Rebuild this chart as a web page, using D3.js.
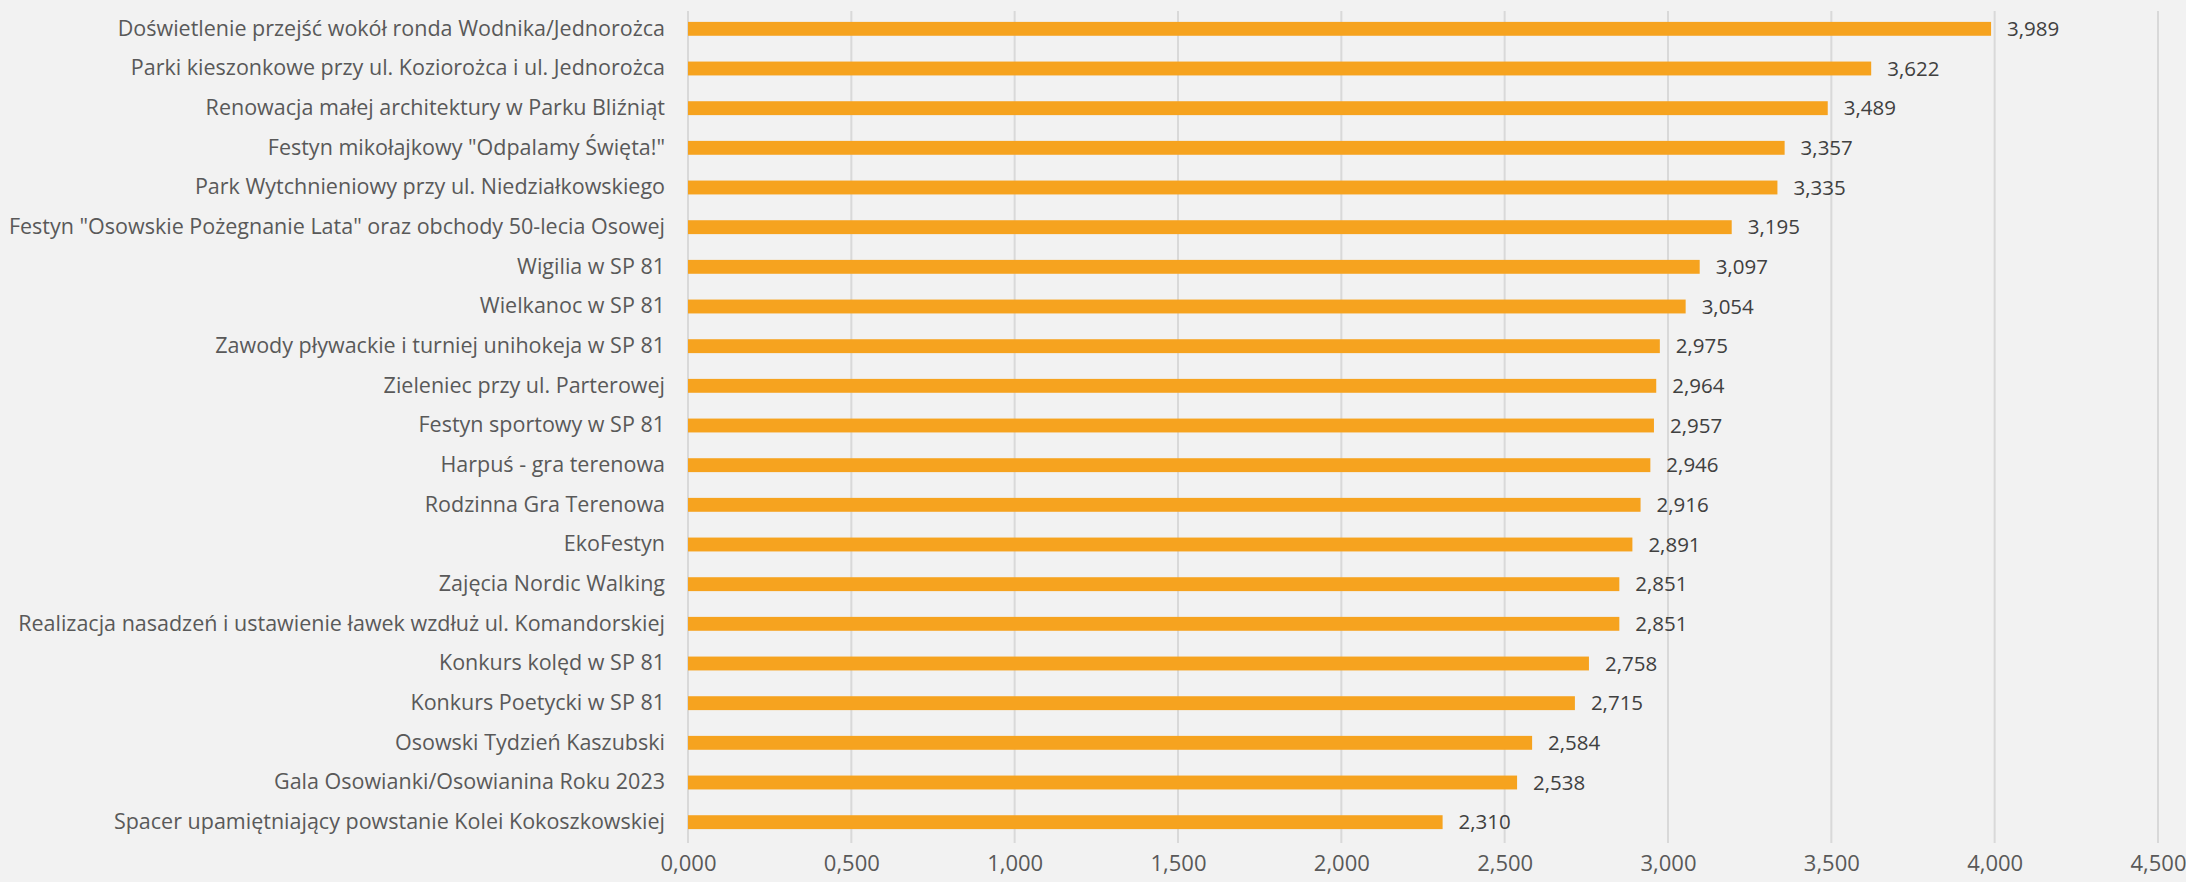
<!DOCTYPE html>
<html><head><meta charset="utf-8">
<script src="https://cdn.jsdelivr.net/npm/d3@7"></script>
<style>html,body{margin:0;padding:0;background:#f2f2f2;}svg{display:block;}</style>
</head><body>
<script>
const categories = [
  "Doświetlenie przejść wokół ronda Wodnika/Jednorożca",
  "Parki kieszonkowe przy ul. Koziorożca i ul. Jednorożca",
  "Renowacja małej architektury w Parku Bliźniąt",
  "Festyn mikołajkowy \"Odpalamy Święta!\"",
  "Park Wytchnieniowy przy ul. Niedziałkowskiego",
  "Festyn \"Osowskie Pożegnanie Lata\" oraz obchody 50-lecia Osowej",
  "Wigilia w SP 81",
  "Wielkanoc w SP 81",
  "Zawody pływackie i turniej unihokeja w SP 81",
  "Zieleniec przy ul. Parterowej",
  "Festyn sportowy w SP 81",
  "Harpuś - gra terenowa",
  "Rodzinna Gra Terenowa",
  "EkoFestyn",
  "Zajęcia Nordic Walking",
  "Realizacja nasadzeń i ustawienie ławek wzdłuż ul. Komandorskiej",
  "Konkurs kolęd w SP 81",
  "Konkurs Poetycki w SP 81",
  "Osowski Tydzień Kaszubski",
  "Gala Osowianki/Osowianina Roku 2023",
  "Spacer upamiętniający powstanie Kolei Kokoszkowskiej"
];
const values = [3.989, 3.622, 3.489, 3.357, 3.335, 3.195, 3.097, 3.054, 2.975, 2.964, 2.957, 2.946, 2.916, 2.891, 2.851, 2.851, 2.758, 2.715, 2.584, 2.538, 2.310];
const tickValues = [0, 0.5, 1, 1.5, 2, 2.5, 3, 3.5, 4, 4.5];

const W = 2186, H = 882;
const data = categories.map((c, i) => ({c, v: values[i]}));
const locale = d3.formatLocale({decimal: ",", thousands: " ", grouping: [3], currency: ["", ""]});
const fmt = locale.format(".3f");

const svg = d3.select("body").append("svg").attr("width", W).attr("height", H);
svg.append("rect").attr("width", W).attr("height", H).attr("fill", "#f2f2f2");

const x = d3.scaleLinear().domain([0, 4.5]).range([688, 2158]);
const y = d3.scaleBand().domain(categories).range([9, 842]).paddingInner(0.65).paddingOuter(0.325);
const font = "'Open Sans', Lato, sans-serif";

// gridlines
svg.append("g").selectAll("line").data(tickValues).join("line")
  .attr("x1", d => x(d)).attr("x2", d => x(d))
  .attr("y1", 11).attr("y2", 843)
  .attr("stroke", "#d9d9d9").attr("stroke-width", 2);

// bars
svg.append("g").selectAll("rect").data(data).join("rect")
  .attr("x", x(0)).attr("y", d => y(d.c))
  .attr("width", d => x(d.v) - x(0)).attr("height", y.bandwidth())
  .attr("fill", "#f6a31f");

// value labels
svg.append("g").selectAll("text").data(data).join("text")
  .attr("x", d => x(d.v) + 16).attr("y", d => y(d.c) + y.bandwidth() / 2)
  .attr("dy", "0.35em")
  .attr("font-family", font).attr("font-size", 20.5).attr("fill", "#404040")
  .text(d => fmt(d.v));

// category axis
const yAxis = d3.axisLeft(y).tickSize(0).tickPadding(23);
const ga = svg.append("g").attr("transform", `translate(${x(0)},0)`).call(yAxis);
ga.select(".domain").remove();
ga.selectAll("text").attr("font-family", font).attr("font-size", 21.5).attr("fill", "#595959");

// x axis
const xAxis = d3.axisBottom(x).tickValues(tickValues).tickSize(0).tickPadding(0).tickFormat(fmt);
const gx = svg.append("g").attr("transform", `translate(0,855)`).call(xAxis);
gx.select(".domain").remove();
gx.selectAll("text").attr("font-family", font).attr("font-size", 22).attr("fill", "#595959");
</script>
</body></html>
